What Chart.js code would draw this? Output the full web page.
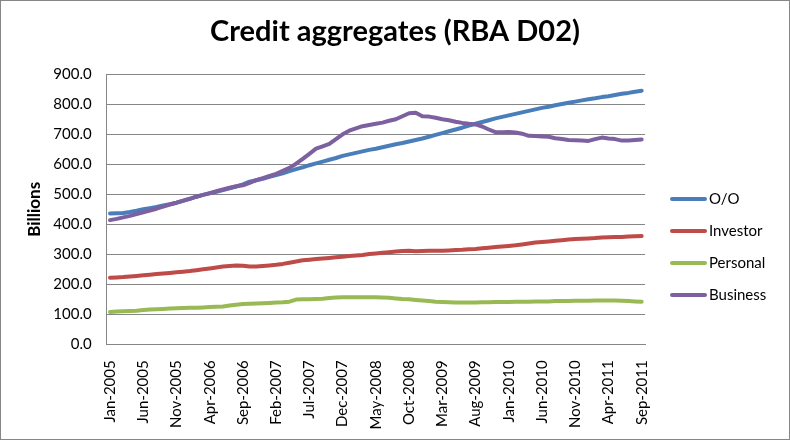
<!DOCTYPE html>
<html><head><meta charset="utf-8">
<script src="https://cdn.jsdelivr.net/npm/chart.js@4.4.1/dist/chart.umd.min.js"></script>
<style>html,body{margin:0;padding:0;background:#fff}#wrap{position:relative;width:790px;height:440px}</style>
</head><body><div id="wrap"><canvas id="c" width="790" height="440"></canvas></div>
<script>
const categories = [
'Jan-2005','Feb-2005','Mar-2005','Apr-2005','May-2005','Jun-2005','Jul-2005','Aug-2005','Sep-2005','Oct-2005','Nov-2005','Dec-2005',
'Jan-2006','Feb-2006','Mar-2006','Apr-2006','May-2006','Jun-2006','Jul-2006','Aug-2006','Sep-2006','Oct-2006','Nov-2006','Dec-2006',
'Jan-2007','Feb-2007','Mar-2007','Apr-2007','May-2007','Jun-2007','Jul-2007','Aug-2007','Sep-2007','Oct-2007','Nov-2007','Dec-2007',
'Jan-2008','Feb-2008','Mar-2008','Apr-2008','May-2008','Jun-2008','Jul-2008','Aug-2008','Sep-2008','Oct-2008','Nov-2008','Dec-2008',
'Jan-2009','Feb-2009','Mar-2009','Apr-2009','May-2009','Jun-2009','Jul-2009','Aug-2009','Sep-2009','Oct-2009','Nov-2009','Dec-2009',
'Jan-2010','Feb-2010','Mar-2010','Apr-2010','May-2010','Jun-2010','Jul-2010','Aug-2010','Sep-2010','Oct-2010','Nov-2010','Dec-2010',
'Jan-2011','Feb-2011','Mar-2011','Apr-2011','May-2011','Jun-2011','Jul-2011','Aug-2011','Sep-2011'];
const labelEvery = 5;

const ownerOccupier = [436,437,438,441,445,450,454,458,463,467,472,478,485,492,498,503,508,514,520,526,533,542,547,552,558,564,570,577,584,590,597,603,609,615,621,628,633,638,643,648,652,657,662,667,671,676,681,686,692,698,704,710,716,722,729,735,741,747,753,758,763,768,773,778,783,788,792,797,801,805,809,813,817,820,824,827,831,835,838,842,845];
const investor = [222,223,224,226,228,230,232,234,236,238,240,242,244,247,250,253,256,259,261,263,262,259,259,261,263,265,268,272,276,280,282,284,286,288,290,292,294,296,298,301,303,305,307,309,311,312,310,311,312,312,312,313,314,315,317,318,320,322,324,326,328,330,333,336,339,341,343,345,347,349,351,352,353,354,356,357,358,358,359,360,361];
const personal = [108,109,110,111,112,114,116,117,118,119,120,121,122,122,123,124,125,126,129,132,134,135,136,137,138,139,140,142,149,150,150,151,152,154,156,157,157,157,157,157,157,156,155,153,151,150,148,146,144,142,141,140,139,139,139,139,140,140,141,141,141,142,142,142,143,143,143,144,144,144,145,145,145,146,146,146,146,145,144,143,142];
const business = [414,418,423,428,434,440,446,452,459,466,472,479,485,492,498,504,510,516,522,527,530,538,547,554,561,568,578,588,602,618,635,652,660,668,684,700,712,720,727,731,735,739,745,750,760,770,772,760,759,755,750,747,742,738,735,733,726,716,707,707,708,706,702,695,694,693,692,687,684,681,680,679,678,684,689,686,684,679,679,681,683];

const seriesNames = ['O/O','Investor','Personal','Business'];
const seriesColors = ['#4A7EBB','#BE4B48','#98B954','#7D60A0'];
const seriesValues = [ownerOccupier, investor, personal, business];
const yMin = 0, yMax = 900, yStep = 100;

const FONT = 'Lato';

const sideLegend = {
  id: 'sideLegend',
  afterDraw(chart) {
    const ctx = chart.ctx;
    const x0 = 670, y0 = 199, dy = 32;
    chart.data.datasets.forEach((ds, i) => {
      const y = y0 + i * dy;
      ctx.save();
      ctx.strokeStyle = ds.borderColor;
      ctx.lineWidth = 4;
      ctx.lineCap = 'round';
      ctx.beginPath();
      ctx.moveTo(x0 + 2, y);
      ctx.lineTo(x0 + 35, y);
      ctx.stroke();
      ctx.fillStyle = '#000';
      ctx.font = '15px ' + FONT;
      ctx.textBaseline = 'middle';
      ctx.textAlign = 'left';
      ctx.fillText(ds.label, 709, y);
      ctx.restore();
    });
  }
};
const frame = {
  id: 'frame',
  beforeDraw(chart) {
    const ctx = chart.ctx;
    ctx.save();
    ctx.fillStyle = '#fff';
    ctx.fillRect(0, 0, chart.width, chart.height);
    ctx.restore();
  },
  afterDraw(chart) {
    const ctx = chart.ctx;
    ctx.save();
    ctx.strokeStyle = '#868686';
    ctx.lineWidth = 1;
    ctx.strokeRect(0.5, 0.5, chart.width - 1, chart.height - 1);
    ctx.restore();
  }
};

new Chart(document.getElementById('c'), {
  type: 'line',
  data: {
    labels: categories,
    datasets: seriesNames.map((name, i) => ({
      label: name,
      data: seriesValues[i],
      borderColor: seriesColors[i],
      backgroundColor: seriesColors[i],
      borderWidth: 4,
      pointRadius: 0,
      pointHoverRadius: 0,
      tension: 0,
      fill: false,
      borderJoinStyle: 'round',
      borderCapStyle: 'round',
      order: seriesNames.length - i,
      yAxisID: 'y'
    }))
  },
  options: {
    responsive: false,
    animation: false,
    devicePixelRatio: 1,
    layout: { padding: { left: 0, right: 0, top: 0, bottom: 0 } },
    plugins: {
      legend: { display: false },
      tooltip: { enabled: false },
      title: {
        display: true,
        text: 'Credit aggregates (RBA D02)',
        color: '#000',
        font: { family: FONT, size: 29, weight: 'bold', lineHeight: 1.2 },
        padding: { top: 14, bottom: 25.5 }
      }
    },
    scales: {
      x: {
        type: 'category',
        offset: true,
        grid: { display: false },
        border: { display: true, color: '#868686', width: 1 },
        ticks: {
          autoSkip: false,
          maxRotation: 90,
          minRotation: 90,
          color: '#000',
          padding: 8,
          font: { family: FONT, size: 15 },
          callback: (v, i) => (i % labelEvery === 0 ? categories[i] : '')
        },
        afterFit: s => { s.height = 95.7; }
      },
      y: {
        position: 'left',
        min: yMin,
        max: yMax,
        grid: { color: '#868686', drawTicks: false },
        border: { display: true, color: '#868686', width: 1 },
        ticks: {
          stepSize: yStep,
          color: '#000',
          padding: 15,
          font: { family: FONT, size: 15 },
          callback: v => Number(v).toFixed(1)
        },
        title: {
          display: true,
          text: 'Billions',
          color: '#000',
          font: { family: FONT, size: 17, weight: 'bold', lineHeight: 1.2 },
          padding: { top: 24, bottom: 0 }
        },
        afterFit: s => { s.width = 106.7; }
      },
      legendSpace: {
        position: 'right',
        min: 0,
        max: 1,
        grid: { display: false, drawOnChartArea: false },
        border: { display: false },
        ticks: { display: false },
        afterFit: s => { s.width = 145; }
      }
    }
  },
  plugins: [frame, sideLegend]
});
</script>
</body></html>
